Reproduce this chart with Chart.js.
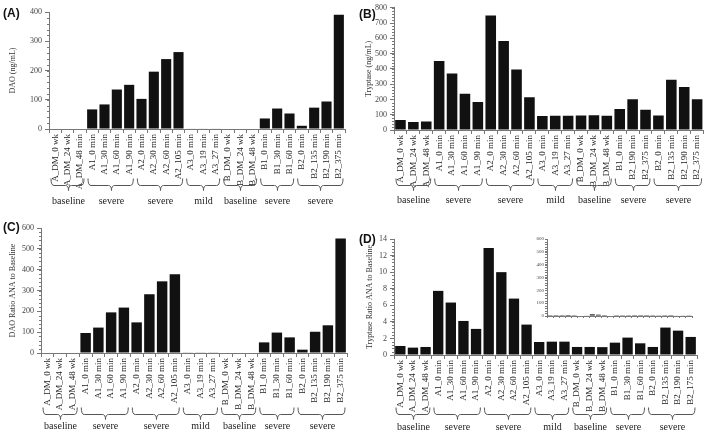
<!DOCTYPE html>
<html>
<head>
<meta charset="utf-8">
<script src="https://cdn.jsdelivr.net/npm/chart.js@4"></script>
<style>
  body { margin: 0; background: #fff; }
  #wrap { position: relative; width: 709px; height: 433px; }
  canvas { position: absolute; }
</style>
</head>
<body>
<div id="wrap">
  <canvas id="chartA" width="355" height="215" style="left:0;top:0"></canvas>
  <canvas id="chartB" width="354" height="215" style="left:355px;top:0"></canvas>
  <canvas id="chartC" width="355" height="218" style="left:0;top:215px"></canvas>
  <canvas id="chartD" width="354" height="218" style="left:355px;top:215px"></canvas>
  <canvas id="chartInset" width="185" height="95" style="left:520px;top:230px"></canvas>
</div>
<script>
// categories (labels differ a little between panels, as in the figure)
const labelsA = ['A_DM_0 wk', 'A_DM_24 wk', 'A_DM_48 min', 'A1_0 min', 'A1_30 min', 'A1_60 min', 'A1_90 min',
  'A2_0 min', 'A2_30 min', 'A2_60 min', 'A2_105 min', 'A3_0 min', 'A3_19 min', 'A3_27 min',
  'B_DM_0 wk', 'B_DM_24 wk', 'B_DM_48 wk', 'B1_0 min', 'B1_30 min', 'B1_60 min',
  'B2_0 min', 'B2_135 min', 'B2_190 min', 'B2_375 min'];
const labelsB = ['A_DM_0 wk', 'A_DM_24 wk', 'A_DM_48 wk', 'A1_0 min', 'A1_30 min', 'A1_60 min', 'A1_90 min',
  'A2_0 min', 'A2_30 min', 'A2_60 min', 'A2_105 min', 'A3_0 min', 'A3_19 min', 'A3_27 min',
  'B_DM_0 wk', 'B_DM_24 wk', 'B_DM_48 wk', 'B1_0 min', 'B2_190 min', 'B2_375 min',
  'B2_0 min', 'B2_135 min', 'B2_190 min', 'B2_375 min'];
const labelsC = ['A_DM_0 wk', 'A_DM_24 wk', 'A_DM_48 wk', 'A1_0 min', 'A1_30 min', 'A1_60 min', 'A1_90 min',
  'A2_0 min', 'A2_30 min', 'A2_60 min', 'A2_105 min', 'A3_0 min', 'A3_19 min', 'A3_27 min',
  'B_DM_0 wk', 'B_DM_24 wk', 'B_DM_48 wk', 'B1_0 min', 'B1_30 min', 'B1_60 min',
  'B2_0 min', 'B2_135 min', 'B2_190 min', 'B2_375 min'];
const labelsD = ['A_DM_0 wk', 'A_DM_24 wk', 'A_DM_48 wk', 'A1_0 min', 'A1_30 min', 'A1_60 min', 'A1_90 min',
  'A2_0 min', 'A2_30 min', 'A2_60 min', 'A2_105 min', 'A3_0 min', 'A3_19 min', 'A3_27 min',
  'B_DM_0 wk', 'B_DM_24 wk', 'B_DM_48 wk', 'B1_0 min', 'B1_30 min', 'B1_60 min',
  'B2_0 min', 'B2_135 min', 'B2_190 min', 'B2_175 min'];

// series values
const daoValues = [0, 0, 0, 67, 84, 135, 151, 103, 196, 239, 263, 1.5, 1.5, 1.5,
  0, 0, 0, 36, 70, 53, 11, 73, 94, 391];
const tryptaseValues = [65, 52, 56, 452, 370, 238, 184, 750, 582, 396, 214, 91, 93, 93,
  95, 97, 93, 138, 201, 132, 95, 329, 281, 201];
const daoRatioValues = [0, 0, 0, 96, 122, 195, 218, 147, 282, 344, 378, 3, 3, 3,
  0, 0, 0, 51, 98, 75, 16, 102, 133, 550];
const tryptaseRatioValues = [1.09, 0.89, 0.97, 7.74, 6.33, 4.11, 3.15, 12.9, 10.0, 6.81, 3.67, 1.57, 1.61, 1.61,
  0.97, 0.97, 0.95, 1.49, 2.1, 1.41, 0.97, 3.31, 2.94, 2.18];

// group brackets under the axis
const groupNames = ['baseline', 'severe', 'severe', 'mild', 'baseline', 'severe', 'severe'];
const groupSizes = [3, 4, 4, 3, 3, 3, 4];

// y axis ticks [max, step]
const yAxisA = [400, 100];
const yAxisB = [800, 100];
const yAxisC = [600, 100];
const yAxisD = [14, 2];
const yAxisInset = [600, 100];

const serif = 'Liberation Serif';

function panelPlugin(o) {
  return {
    id: 'panel' + (o.letter || 'inset'),
    afterDraw(chart) {
      const ctx = chart.ctx;
      const x = chart.scales.x, y = chart.scales.y;
      ctx.save();
      // minor ticks on y axis
      ctx.strokeStyle = '#777';
      ctx.lineWidth = 1;
      const minor = o.yAxis[1] / 5;
      for (let v = 0; v <= o.yAxis[0] + 1e-9; v += minor) {
        const py = Math.round(y.getPixelForValue(v)) + 0.5;
        ctx.beginPath();
        ctx.moveTo(y.right - 2, py);
        ctx.lineTo(y.right, py);
        ctx.stroke();
      }
      if (o.brackets) {
        // brackets with group names
        const half = (x.getPixelForValue(1) - x.getPixelForValue(0)) / 2;
        const by = x.top + o.bracketY + 0.5;
        ctx.strokeStyle = '#555';
        ctx.fillStyle = '#222';
        ctx.font = '10px ' + serif;
        ctx.textAlign = 'center';
        ctx.textBaseline = 'middle';
        let start = 0;
        groupSizes.forEach((n, i) => {
          const x0 = x.getPixelForValue(start) - half + 2;
          const x1 = x.getPixelForValue(start + n - 1) + half - 2;
          const cx = Math.round((x0 + x1) / 2) + 0.5;
          ctx.beginPath();
          ctx.moveTo(x0, by - 7);
          ctx.quadraticCurveTo(x0, by, x0 + 3, by);
          ctx.lineTo(cx - 3, by);
          ctx.quadraticCurveTo(cx, by, cx, by + 5);
          ctx.quadraticCurveTo(cx, by, cx + 3, by);
          ctx.lineTo(x1 - 3, by);
          ctx.quadraticCurveTo(x1, by, x1, by - 7);
          ctx.stroke();
          ctx.fillText(groupNames[i], cx, x.top + o.textY);
          start += n;
        });
      }
      if (o.letter) {
        ctx.fillStyle = '#111';
        ctx.font = 'bold 12px "Liberation Sans"';
        ctx.textAlign = 'left';
        ctx.textBaseline = 'middle';
        ctx.fillText('(' + o.letter + ')', o.letterPos[0], o.letterPos[1]);
      }
      ctx.restore();
    }
  };
}

function makePanel(id, labels, values, o) {
  const canvas = document.getElementById(id);
  const W = canvas.width, H = canvas.height;
  const small = !!o.inset;
  return new Chart(canvas, {
    type: 'bar',
    data: {
      labels: labels,
      datasets: [{
        data: values,
        backgroundColor: '#111',
        borderWidth: 0,
        barPercentage: 0.82,
        categoryPercentage: 1
      }]
    },
    options: {
      responsive: false,
      animation: false,
      devicePixelRatio: 1,
      layout: { padding: { left: 0, top: o.plot[2], right: W - o.plot[1], bottom: 0 } },
      plugins: { legend: { display: false }, tooltip: { enabled: false } },
      scales: {
        x: {
          grid: { display: true, drawOnChartArea: false, drawTicks: true, tickLength: small ? 2 : 4, offset: true, color: '#777' },
          border: { display: true, color: '#777' },
          ticks: {
            display: !small,
            autoSkip: false,
            minRotation: 90,
            maxRotation: 90,
            padding: 1,
            color: '#222',
            font: { family: serif, size: 9 }
          },
          afterFit(scale) { scale.height = H - o.plot[3]; }
        },
        y: {
          min: 0,
          max: o.yAxis[0],
          grid: { display: true, drawOnChartArea: false, drawTicks: true, tickLength: small ? 2 : 4, color: '#777' },
          border: { display: true, color: '#777' },
          ticks: {
            stepSize: o.yAxis[1],
            padding: small ? 1 : 3,
            color: '#444',
            font: { family: serif, size: small ? 5 : 8 }
          },
          title: {
            display: !!o.yTitle,
            text: o.yTitle,
            color: '#333',
            padding: { top: o.titleX - 4.8, bottom: 0 },
            font: { family: serif, size: 8 }
          },
          afterFit(scale) { scale.width = o.plot[0]; }
        }
      }
    },
    plugins: [panelPlugin(o)]
  });
}

makePanel('chartA', labelsA, daoValues, {
  letter: 'A', letterPos: [3, 14], yAxis: yAxisA, yTitle: 'DAO (ng/mL)', titleX: 13,
  plot: [49, 345, 12, 129], brackets: true, bracketY: 56, textY: 72
});
makePanel('chartB', labelsB, tryptaseValues, {
  letter: 'B', letterPos: [4, 15], yAxis: yAxisB, yTitle: 'Tryptase (ng/mL)', titleX: 14,
  plot: [39, 350, 7, 130], brackets: true, bracketY: 55, textY: 70
});
makePanel('chartC', labelsC, daoRatioValues, {
  letter: 'C', letterPos: [3, 13], yAxis: yAxisC, yTitle: 'DAO Ratio ANA to Baseline', titleX: 13,
  plot: [41, 347, 13, 138], brackets: true, bracketY: 61, textY: 73
});
makePanel('chartD', labelsD, tryptaseRatioValues, {
  letter: 'D', letterPos: [4, 25], yAxis: yAxisD, yTitle: 'Tryptase Ratio ANA to Baseline', titleX: 15,
  plot: [39, 342, 24, 140], brackets: true, bracketY: 59, textY: 72
});
makePanel('chartInset', labelsD, tryptaseRatioValues, {
  inset: true, yAxis: yAxisInset, plot: [27, 172, 9, 86]
});
</script>
</body>
</html>
